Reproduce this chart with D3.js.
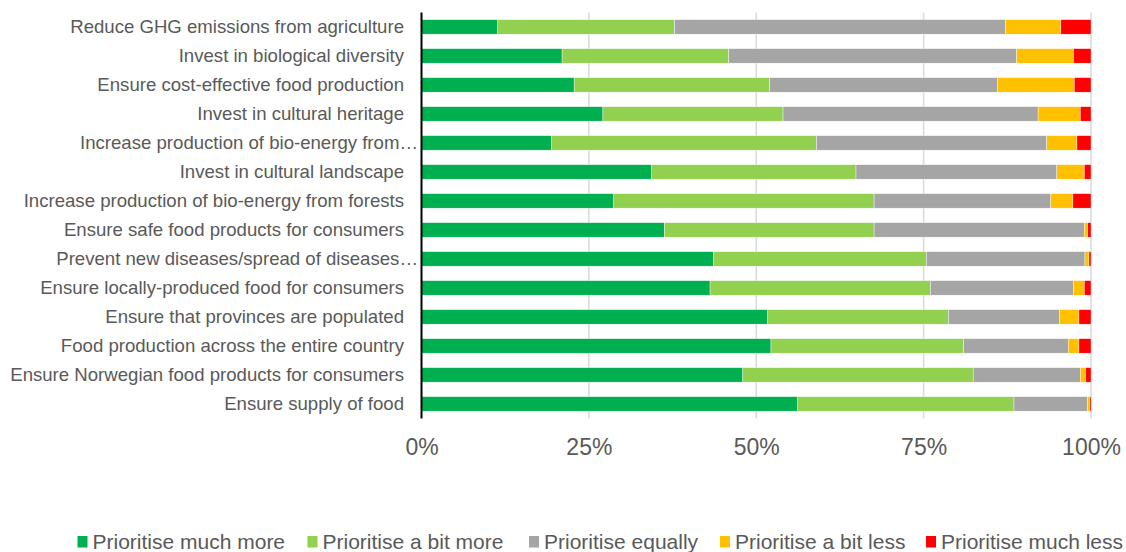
<!DOCTYPE html>
<html>
<head>
<meta charset="utf-8">
<script src="https://cdn.jsdelivr.net/npm/d3@7"></script>
<style>
  body { margin: 0; background: #fff; }
  text { font-family: "Liberation Sans", Arial, sans-serif; fill: #595959; }
</style>
</head>
<body>
<div id="chart"></div>
<script>
// Chart size
var svgWidth = 1126;
var svgHeight = 552;

// Categories (top to bottom)
var categories = [
  "Reduce GHG emissions from agriculture",
  "Invest in biological diversity",
  "Ensure cost-effective food production",
  "Invest in cultural heritage",
  "Increase production of bio-energy from…",
  "Invest in cultural landscape",
  "Increase production of bio-energy from forests",
  "Ensure safe food products for consumers",
  "Prevent new diseases/spread of diseases…",
  "Ensure locally-produced food for consumers",
  "Ensure that provinces are populated",
  "Food production across the entire country",
  "Ensure Norwegian food products for consumers",
  "Ensure supply of food"
];

// Series (share of respondents, %)
var seriesNames = ["Prioritise much more", "Prioritise a bit more", "Prioritise equally", "Prioritise a bit less", "Prioritise much less"];
var muchMore  = [11.4, 21.0, 22.8, 27.1, 19.4, 34.4, 28.7, 36.3, 43.6, 43.1, 51.7, 52.2, 48.0, 56.2];
var bitMore   = [26.4, 24.9, 29.2, 26.9, 39.6, 30.5, 38.9, 31.3, 31.8, 32.9, 27.0, 28.8, 34.4, 32.3];
var equally   = [49.4, 43.0, 34.0, 38.1, 34.4, 30.0, 26.4, 31.4, 23.7, 21.4, 16.6, 15.6, 16.0, 11.0];
var bitLess   = [8.3, 8.5, 11.5, 6.3, 4.5, 4.1, 3.3, 0.5, 0.6, 1.6, 2.9, 1.6, 0.8, 0.3];
var muchLess  = [4.5, 2.6, 2.5, 1.6, 2.1, 1.0, 2.7, 0.5, 0.3, 1.0, 1.8, 1.8, 0.8, 0.2];

var tickValues = [0, 0.25, 0.5, 0.75, 1];
var colors = ["#00B050", "#92D050", "#A5A5A5", "#FFC000", "#FF0000"];

// build table for d3.stack (normalised to 1)
var table = categories.map(function(c, i) {
  var row = {cat: c};
  var vals = [muchMore[i], bitMore[i], equally[i], bitLess[i], muchLess[i]];
  var tot = d3.sum(vals);
  seriesNames.forEach(function(s, j) { row[s] = vals[j] / tot; });
  return row;
});

var stacked = d3.stack().keys(seriesNames)(table);

var SVG = d3.select("#chart")
  .append("svg")
  .attr("width", svgWidth)
  .attr("height", svgHeight);

var xScale = d3.scaleLinear().domain([0, 1]).range([421.5, 1091]);
var yScale = d3.scaleBand().domain(categories).range([12.4, 418.4])
  .paddingInner(0.5).paddingOuter(0.25);
var color = d3.scaleOrdinal().domain(seriesNames).range(colors);

// gridlines
SVG.append("g")
  .selectAll("line")
  .data(tickValues.slice(1))
  .enter()
  .append("line")
  .attr("x1", d => xScale(d))
  .attr("x2", d => xScale(d))
  .attr("y1", 12.4)
  .attr("y2", 418.4)
  .attr("stroke", "#d9d9d9")
  .attr("stroke-width", 1.5);

// bars
SVG.append("g")
  .selectAll("g")
  .data(stacked)
  .enter()
  .append("g")
  .attr("fill", d => color(d.key))
  .selectAll("rect")
  .data(d => d)
  .enter()
  .append("rect")
  .attr("x", d => xScale(d[0]))
  .attr("width", d => xScale(d[1]) - xScale(d[0]))
  .attr("y", d => yScale(d.data.cat))
  .attr("height", yScale.bandwidth())
  .attr("stroke", "#fff")
  .attr("stroke-width", 0.4);

// vertical axis line
SVG.append("line")
  .attr("x1", 421.5).attr("x2", 421.5)
  .attr("y1", 12.4).attr("y2", 418.4)
  .attr("stroke", "#000")
  .attr("stroke-width", 2);

// category labels
SVG.append("g")
  .selectAll("text")
  .data(categories)
  .enter()
  .append("text")
  .attr("x", d => d.endsWith("…") ? 418 : 404)
  .attr("y", d => yScale(d) + yScale.bandwidth() / 2)
  .attr("dy", "0.35em")
  .attr("text-anchor", "end")
  .attr("font-size", "18.6px")
  .text(d => d);

// x axis tick labels
var xAxis = d3.axisBottom(xScale)
  .tickValues(tickValues)
  .tickFormat(d3.format(".0%"))
  .tickSize(0)
  .tickPadding(0);

var axisG = SVG.append("g")
  .attr("transform", "translate(0, 439)")
  .call(xAxis);
axisG.select(".domain").remove();
axisG.selectAll("text")
  .attr("font-size", "23px")
  .attr("font-family", "Liberation Sans, Arial, sans-serif")
  .attr("fill", "#595959")
  .attr("dy", "0.71em")
  .attr("y", 0);

// legend
var legendX = [77.5, 307.5, 529, 720, 926];
var legend = SVG.append("g")
  .selectAll("g")
  .data(seriesNames)
  .enter()
  .append("g")
  .attr("transform", (d, i) => `translate(${legendX[i]}, 536)`);

legend.append("rect")
  .attr("width", 10)
  .attr("height", 11.5)
  .attr("fill", d => color(d));

legend.append("text")
  .attr("x", 15)
  .attr("y", 13)
  .attr("font-size", "21px")
  .text(d => d);
</script>
</body>
</html>
